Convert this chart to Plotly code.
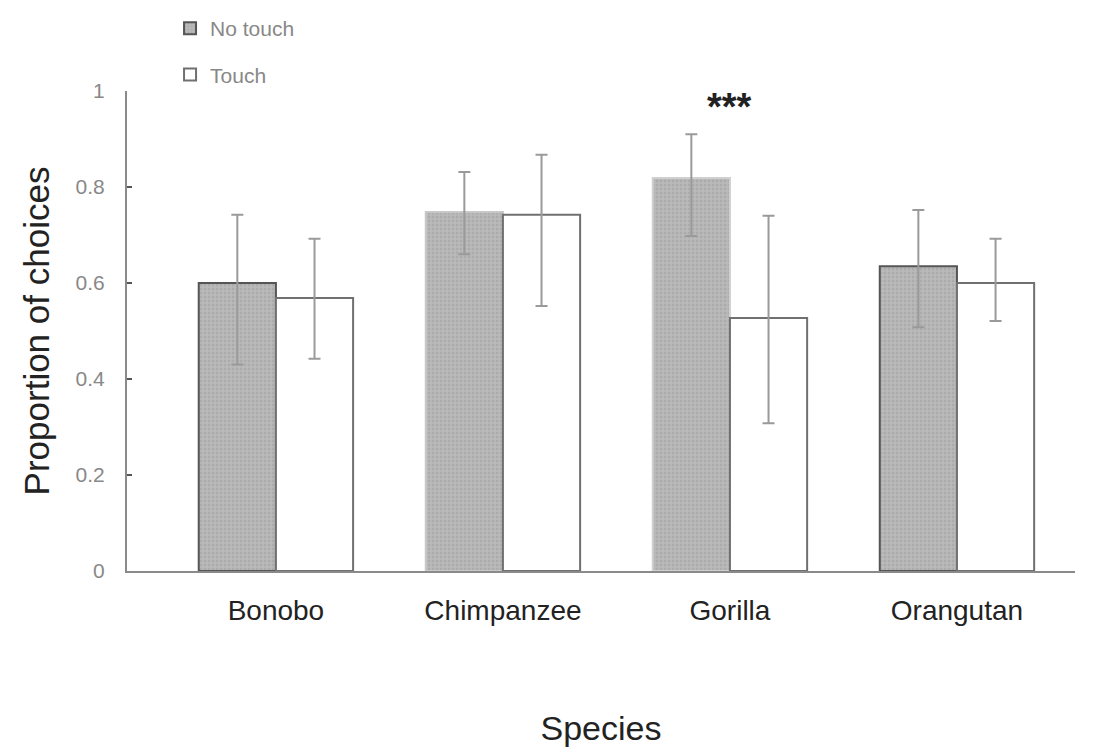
import plotly.graph_objects as go

species = ["Bonobo", "Chimpanzee", "Gorilla", "Orangutan"]
no_touch = [0.60, 0.748, 0.819, 0.635]
no_touch_hi = [0.742, 0.831, 0.910, 0.752]
no_touch_lo = [0.430, 0.660, 0.698, 0.508]
touch = [0.569, 0.742, 0.527, 0.60]
touch_hi = [0.692, 0.867, 0.740, 0.692]
touch_lo = [0.442, 0.552, 0.308, 0.521]
y_ticks = [0, 0.2, 0.4, 0.6, 0.8, 1]
y_tick_text = ["0", "0.2", "0.4", "0.6", "0.8", "1"]

nt_plus = [h - v for h, v in zip(no_touch_hi, no_touch)]
nt_minus = [v - l for l, v in zip(no_touch_lo, no_touch)]
t_plus = [h - v for h, v in zip(touch_hi, touch)]
t_minus = [v - l for l, v in zip(touch_lo, touch)]

fig = go.Figure()
fig.add_trace(go.Bar(
    name="No touch", x=species, y=no_touch,
    marker=dict(
        color="#b4b4b4",
        pattern=dict(shape=".", fgcolor="#9c9c9c", bgcolor="#bababa", size=4, solidity=0.4),
        line=dict(color=["#555555", "#c8c8c8", "#d0d0d0", "#555555"], width=2),
    ),
    error_y=dict(type="data", symmetric=False, array=nt_plus, arrayminus=nt_minus,
                 color="#9a9a9a", thickness=2, width=6),
    legendgroup="a",
))
fig.add_trace(go.Bar(
    name="Touch", x=species, y=touch,
    marker=dict(color="white", line=dict(color="#707070", width=2)),
    error_y=dict(type="data", symmetric=False, array=t_plus, arrayminus=t_minus,
                 color="#9a9a9a", thickness=2, width=6),
    legendgroup="b",
))

fig.add_annotation(x="Gorilla", y=0.966, text="<b>***</b>", showarrow=False,
                   font=dict(size=38, color="#222222", family="Liberation Sans, Arial"))

fig.update_layout(
    width=1103, height=741,
    margin=dict(l=119, r=36, t=83, b=178, autoexpand=False),
    paper_bgcolor="white", plot_bgcolor="white",
    barmode="group", bargap=0.32, bargroupgap=0,
    font=dict(family="Liberation Sans, Arial", color="#222222"),
    legend=dict(
        xref="paper", yref="container", x=0.0454, y=1.031,
        xanchor="left", yanchor="top",
        traceorder="grouped", tracegroupgap=16,
        font=dict(size=21, color="#888888"),
        itemwidth=30, bgcolor="rgba(0,0,0,0)",
    ),
    xaxis=dict(
        range=[-0.656, 3.52], showline=True, linecolor="#8a8a8a", linewidth=2,
        ticks="", showgrid=False, zeroline=False,
        tickfont=dict(size=28, color="#222222"), ticklabelstandoff=13,
        title=dict(text="Species", font=dict(size=34, color="#222222"), standoff=92),
    ),
    yaxis=dict(
        range=[0, 1], tickvals=y_ticks, ticktext=y_tick_text,
        showline=True, linecolor="#8a8a8a", linewidth=2,
        ticks="inside", ticklen=5, tickcolor="#555555", tickwidth=2,
        showgrid=False, zeroline=False,
        tickfont=dict(size=21, color="#888888"), ticklabelstandoff=16,
        title=dict(text="Proportion of choices", font=dict(size=35, color="#222222")),
    ),
)

fig.write_html("out.html")
